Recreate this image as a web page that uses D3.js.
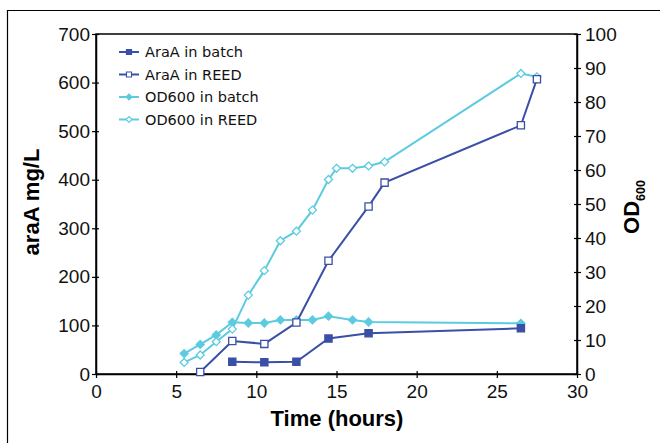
<!DOCTYPE html>
<html><head><meta charset="utf-8">
<script src="https://cdn.jsdelivr.net/npm/d3@7"></script>
<style>body{margin:0;background:#fff;} svg{display:block;font-family:Arial,"Liberation Sans",sans-serif;}</style>
</head><body><svg id="c" width="660" height="443"></svg>
<script>
const araBatchHours = [8.5, 10.5, 12.5, 14.5, 17, 26.5];
const araBatch = [25, 24, 25, 73, 84, 94];
const araReedHours = [6.5, 8.5, 10.5, 12.5, 14.5, 17, 18, 26.5, 27.5];
const araReed = [4, 68, 62, 106, 233, 345, 394, 512, 607];
const odBatchHours = [5.5, 6.5, 7.5, 8.5, 9.5, 10.5, 11.5, 12.5, 13.5, 14.5, 16, 17, 26.5];
const odBatch = [6.0, 8.7, 11.5, 15.2, 15.0, 15.0, 15.9, 15.9, 15.9, 17.0, 15.9, 15.3, 14.9];
const odReedHours = [5.5, 6.5, 7.5, 8.5, 9.5, 10.5, 11.5, 12.5, 13.5, 14.5, 15, 16, 17, 18, 26.5, 27.5];
const odReed = [3.4, 5.6, 9.5, 13.2, 23.2, 30.4, 39.2, 42, 48.2, 57.2, 60.5, 60.5, 61.2, 62.4, 88.4, 87.4];
const xTicks = [0, 5, 10, 15, 20, 25, 30];
const yLeftTicks = [0, 100, 200, 300, 400, 500, 600, 700];
const yRightTicks = [0, 10, 20, 30, 40, 50, 60, 70, 80, 90, 100];
const legendLabels = ["AraA in batch", "AraA in REED", "OD600 in batch", "OD600 in REED"];

const dark = "#3a4fa6", cyan = "#5ccbe0";
const svg = d3.select("#c");
const L = 96, R = 577, T = 34, B = 374;
const x = d3.scaleLinear().domain([0, 30]).range([L, R]);
const yL = d3.scaleLinear().domain([0, 700]).range([B, T]);
const yR = d3.scaleLinear().domain([0, 100]).range([B, T]);

// outer frame (top and left)
svg.append("path").attr("d", "M7.5,443 V10.5 H660").attr("fill", "none").attr("stroke", "#000").attr("stroke-width", 1.2);

// plot box
svg.append("rect").attr("x", L).attr("y", T).attr("width", R - L).attr("height", B - T)
  .attr("fill", "none").attr("stroke", "#000").attr("stroke-width", 1.5);

const fs = "19px";
const gx = svg.append("g").attr("transform", `translate(0,${B})`)
  .call(d3.axisBottom(x).tickValues(xTicks).tickSizeInner(4).tickSizeOuter(0).tickPadding(7));
const gl = svg.append("g").attr("transform", `translate(${L},0)`)
  .call(d3.axisLeft(yL).tickValues(yLeftTicks).tickSizeInner(4).tickSizeOuter(0).tickPadding(2));
const gr = svg.append("g").attr("transform", `translate(${R},0)`)
  .call(d3.axisRight(yR).tickValues(yRightTicks).tickSizeInner(4).tickSizeOuter(0).tickPadding(4));
[gx, gl, gr].forEach(g => {
  g.select(".domain").attr("stroke", "#000").attr("stroke-width", 1.5);
  g.selectAll(".tick line").attr("stroke", "#000").attr("stroke-width", 1.2);
  g.selectAll(".tick text").attr("fill", "#111").style("font-size", fs).style("font-family", "Arial,'Liberation Sans',sans-serif");
});
gx.selectAll(".tick line").attr("y1", -3);
gl.selectAll(".tick line").attr("x2", 3).attr("x1", -4);
gr.selectAll(".tick line").attr("x1", -3);

// titles
svg.append("text").attr("x", 337).attr("y", 426).attr("text-anchor", "middle")
  .style("font-size", "22px").style("font-weight", "bold").text("Time (hours)");
svg.append("text").attr("transform", "translate(39,202) rotate(-90)").attr("text-anchor", "middle")
  .style("font-size", "22px").style("font-weight", "bold").text("araA mg/L");
const rt = svg.append("text").attr("transform", "translate(639,207) rotate(-90)").attr("text-anchor", "middle")
  .style("font-size", "22px").style("font-weight", "bold");
rt.append("tspan").text("OD");
rt.append("tspan").attr("dy", 6).style("font-size", "12.5px").text("600");

const diamond = s => `M0,${-s}L${s},0L0,${s}L${-s},0Z`;
function series(hours, vals, scale, color, shape, filled) {
  const pts = hours.map((h, i) => [x(h), scale(vals[i])]);
  svg.append("path").attr("d", d3.line()(pts)).attr("fill", "none").attr("stroke", color).attr("stroke-width", 2);
  const sym = shape === "sq" ? d3.symbol().type(d3.symbolSquare).size(52)() : diamond(4);
  svg.append("g").selectAll("path").data(pts).join("path")
    .attr("transform", d => `translate(${d[0]},${d[1]})`).attr("d", sym)
    .attr("fill", filled ? color : "#fff").attr("stroke", color).attr("stroke-width", 1.3);
}
series(odBatchHours, odBatch, yR, cyan, "di", true);
series(odReedHours, odReed, yR, cyan, "di", false);
series(araBatchHours, araBatch, yL, dark, "sq", true);
series(araReedHours, araReed, yL, dark, "sq", false);

// legend
const leg = [[dark, "sq", true], [dark, "sq", false], [cyan, "di", true], [cyan, "di", false]];
leg.forEach((d, i) => {
  const yy = 52 + i * 22.5;
  svg.append("line").attr("x1", 119).attr("x2", 139).attr("y1", yy).attr("y2", yy).attr("stroke", d[0]).attr("stroke-width", 2);
  const sym = d[1] === "sq" ? d3.symbol().type(d3.symbolSquare).size(26)() : diamond(3);
  svg.append("path").attr("transform", `translate(129,${yy})`).attr("d", sym)
    .attr("fill", d[2] ? d[0] : "#fff").attr("stroke", d[0]).attr("stroke-width", 1.1);
  svg.append("text").attr("x", 145).attr("y", yy + 5).style("font-size", "14.5px").attr("fill", "#111")
    .style("font-family", "'DejaVu Sans',Verdana,sans-serif").text(legendLabels[i]);
});
</script></body></html>
